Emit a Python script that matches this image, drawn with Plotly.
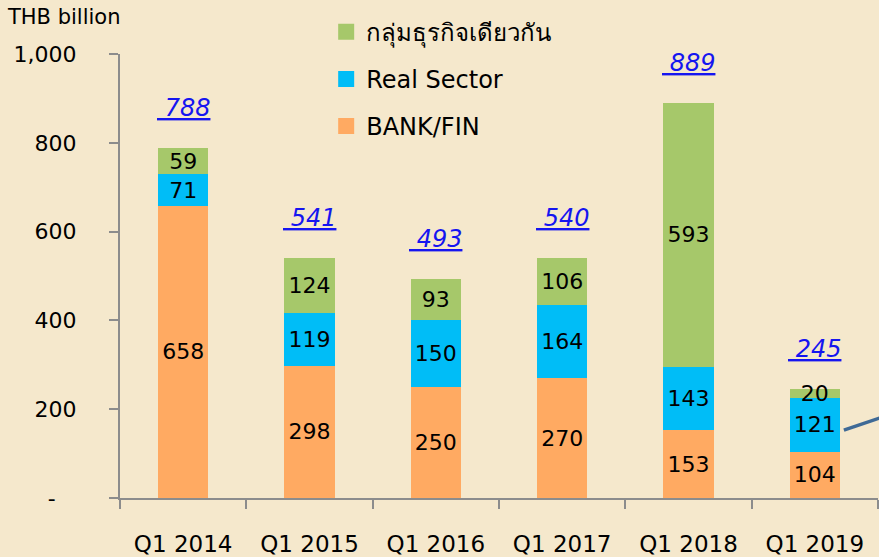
import plotly.graph_objects as go

categories = ["Q1 2014", "Q1 2015", "Q1 2016", "Q1 2017", "Q1 2018", "Q1 2019"]
bank_fin = [658, 298, 250, 270, 153, 104]
real_sector = [71, 119, 150, 164, 143, 121]
same_group = [59, 124, 93, 106, 593, 20]
totals = [788, 541, 493, 540, 889, 245]
series_names = ["BANK/FIN", "Real Sector", "กลุ่มธุรกิจเดียวกัน"]
y_tickvals = [0, 200, 400, 600, 800, 1000]
y_ticktext = ["-&nbsp;&nbsp;&nbsp;", "200", "400", "600", "800", "1,000"]

colors = {"BANK/FIN": "#FFAA62", "Real Sector": "#00BDF7", "กลุ่มธุรกิจเดียวกัน": "#A6C86A"}
FONT = "DejaVu Sans, Noto Sans, sans-serif"

fig = go.Figure()
for name, vals in zip(series_names, [bank_fin, real_sector, same_group]):
    fig.add_trace(go.Bar(
        x=categories, y=vals, name=name, marker_color=colors[name], marker_line_width=0,
        text=[str(v) for v in vals], textposition="inside", insidetextanchor="middle",
        textangle=0, textfont=dict(family=FONT, size=22, color="black"),
        showlegend=False, width=0.4,
    ))

# legend entries (reverse order, large square swatches)
for name in reversed(series_names):
    fig.add_trace(go.Scatter(
        x=[None], y=[None], mode="markers", name=name,
        marker=dict(symbol="square", size=23, color=colors[name]),
        legendgroup=name, showlegend=True,
    ))

for c, t in zip(categories, totals):
    fig.add_annotation(
        x=c, y=t, text="<i><u>&nbsp;" + str(t) + "</u></i>", showarrow=False,
        yanchor="bottom", yshift=24, font=dict(family=FONT, size=24, color="#1515F0"),
    )

fig.add_annotation(xref="paper", yref="paper", x=-0.152, y=1.083, xanchor="left", yanchor="middle",
                   text="THB billion", showarrow=False, font=dict(family=FONT, size=21, color="black"))

# callout connector line at right edge
fig.add_shape(type="line", xref="paper", yref="paper", x0=0.955, y0=0.153, x1=1.002, y1=0.18,
              line=dict(color="#3F6A96", width=3.5))

fig.update_layout(
    barmode="stack",
    width=879, height=557,
    margin=dict(l=120, r=1, t=54, b=59, autoexpand=False),
    paper_bgcolor="#F5E8CC",
    plot_bgcolor="rgba(0,0,0,0)",
    font=dict(family=FONT, color="black"),
    legend=dict(x=0.272, y=1.1, xanchor="left", yanchor="top", bgcolor="rgba(0,0,0,0)",
                font=dict(family=FONT, size=24, color="black"), tracegroupgap=13,
                traceorder="grouped", itemwidth=30),
    uniformtext=dict(minsize=22, mode="show"),
    xaxis=dict(showline=True, linecolor="#8C8C8C", linewidth=2, ticks="outside", tickson="boundaries",
               ticklen=9, tickcolor="#8C8C8C", tickwidth=2, showgrid=False, automargin=False,
               tickfont=dict(family=FONT, size=23, color="black"), ticklabelstandoff=24),
    yaxis=dict(range=[0, 1000], showline=True, linecolor="#8C8C8C", linewidth=2, ticks="outside",
               ticklen=9, tickcolor="#8C8C8C", tickwidth=2, showgrid=False, zeroline=False,
               automargin=False, tickvals=y_tickvals, ticktext=y_ticktext,
               tickfont=dict(family=FONT, size=22, color="black"), ticklabelstandoff=28),
)

fig.write_html("out.html", config={"displayModeBar": False},
               post_script="document.body.style.margin='0';document.body.style.background='#F5E8CC';")
